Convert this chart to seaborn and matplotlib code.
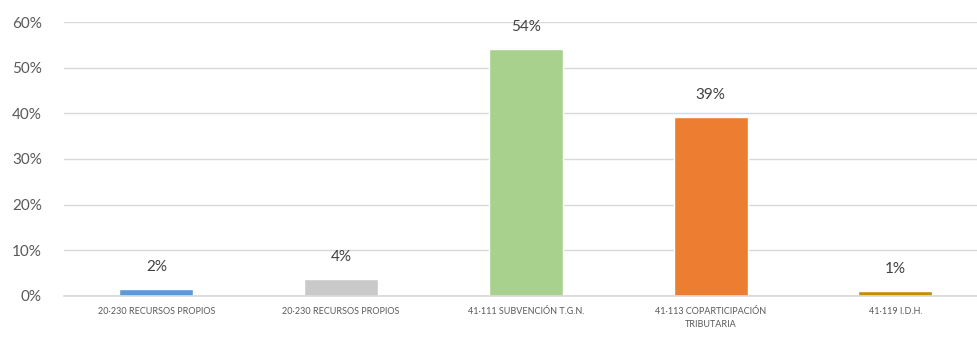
import pandas as pd
import seaborn as sns
import matplotlib.pyplot as plt
from matplotlib.ticker import PercentFormatter

sns.set_theme(style='white')
plt.rcParams['font.family'] = ['Lato', 'DejaVu Sans']

categories = ['20·230 RECURSOS PROPIOS', '20·230 RECURSOS PROPIOS', '41·111 SUBVENCIÓN T.G.N.',
              '41·113 COPARTICIPACIÓN\nTRIBUTARIA', '41·119 I.D.H.']
values = [1.5, 3.7, 54.0, 39.2, 1.1]
labels = ['2%', '4%', '54%', '39%', '1%']
colors = ['#5B9BD5', '#C9C9C9', '#A9D18E', '#ED7D31', '#BF9000']

# two categories share a name, so plot by position and label afterwards
df = pd.DataFrame({'pos': range(len(categories)), 'val': values})

fig = plt.figure(figsize=(9.77, 3.37), dpi=100)
ax = fig.add_axes([0.0655, 0.1217, 0.9455, 0.813])
sns.barplot(data=df, x='pos', y='val', hue='pos', palette=colors, legend=False,
            width=0.4, saturation=1, ax=ax)

ax.set_ylim(0, 60)
ax.set_yticks(range(0, 61, 10))
ax.yaxis.set_major_formatter(PercentFormatter(decimals=0))
ax.set_xticks(range(len(categories)))
ax.set_xticklabels(categories, linespacing=1.5)
ax.grid(axis='y', color='#D9D9D9', linewidth=1)
ax.set_axisbelow(True)
for s in ['left', 'right', 'top']:
    ax.spines[s].set_visible(False)
ax.spines['bottom'].set_color('#D9D9D9')
ax.tick_params(axis='y', labelsize=11, colors='#595959', length=0, pad=16)
ax.tick_params(axis='x', labelsize=6.5, colors='#595959', length=0, pad=8)
ax.set_xlabel('')
ax.set_ylabel('')

for p, lab in zip(ax.patches, labels):
    ax.annotate(lab, (p.get_x() + p.get_width() / 2, p.get_height()),
                xytext=(0, 16), textcoords='offset points', ha='center', va='center',
                fontsize=11, color='#404040')

fig.savefig('out.png', dpi=100)
